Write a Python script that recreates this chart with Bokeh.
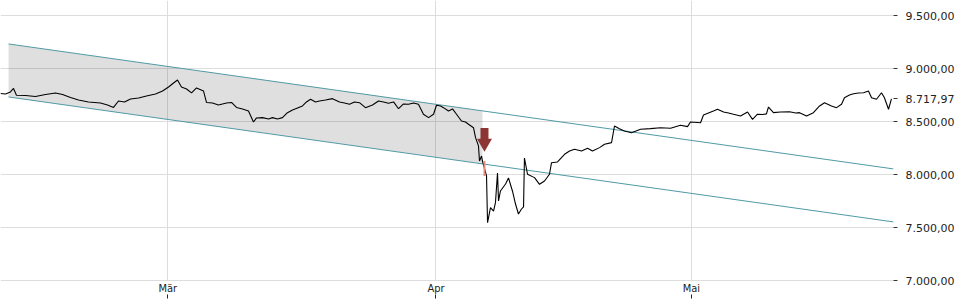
from bokeh.plotting import figure
from bokeh.models import Range1d, FixedTicker, CustomJSTickFormatter
from bokeh.embed import file_html
from bokeh.resources import INLINE

# Trading-day positions (0 = first session shown) and index level
days = [-0.10, 0.29, 0.68, 0.92, 1.15, 1.86, 2.64, 3.42, 4.21, 4.76, 5.38, 6.01, 6.79, 7.73, 8.28, 8.75,
        9.14, 9.61, 10.08, 10.71, 11.33, 12.04, 12.59, 13.06, 13.45, 13.76, 14.07, 14.47, 14.86, 15.25,
        15.80, 16.03, 16.50, 16.97, 17.60, 17.99, 18.38, 18.85, 19.32, 19.71, 19.95, 20.42, 20.89, 21.20,
        21.59, 21.98, 22.37, 22.77, 23.16, 23.55, 23.86, 24.18, 24.57, 24.88, 25.35, 25.90, 26.45, 26.84,
        27.23, 27.62, 28.01, 28.48, 29.03, 29.50, 29.89, 30.28, 30.68, 31.07, 31.46, 31.85, 32.24, 32.63,
        33.02, 33.42, 33.81, 34.04, 34.36, 34.59, 34.98, 35.30, 35.61, 36.00, 36.31, 36.55, 36.94, 37.10,
        37.33, 37.41, 37.57, 37.64, 37.96, 38.04, 38.27, 38.51, 38.66, 38.82, 38.90, 39.05, 39.45, 39.68,
        39.99, 40.23, 40.46, 40.70, 40.86, 40.93, 41.17, 41.72, 42.11, 42.50, 42.89, 43.05, 43.52, 44.07,
        44.46, 44.85, 45.40, 45.87, 46.26, 46.81, 47.20, 47.75, 47.98, 48.37, 48.76, 49.31, 50.02, 50.80,
        51.58, 52.37, 53.15, 53.70, 53.93, 54.72, 54.95, 55.34, 55.73, 56.05, 56.52, 56.91, 57.30, 57.85,
        58.40, 58.79, 59.18, 59.57, 59.88, 60.04, 60.43, 60.98, 61.69, 62.16, 62.47, 63.02, 63.56, 64.04,
        64.43, 64.97, 65.37, 65.76, 65.99, 66.38, 66.70, 67.09, 67.48, 67.87, 68.11, 68.50, 68.89, 69.12,
        69.44, 69.67]
price = [8769, 8764, 8783, 8816, 8752, 8750, 8741, 8759, 8774, 8759, 8731, 8708, 8689, 8679, 8660, 8637,
         8698, 8689, 8717, 8726, 8745, 8764, 8792, 8830, 8868, 8896, 8830, 8811, 8774, 8821,
         8792, 8684, 8679, 8660, 8679, 8684, 8637, 8623, 8604, 8500, 8538, 8541, 8528, 8541,
         8528, 8541, 8588, 8613, 8632, 8651, 8689, 8714, 8689, 8698, 8708, 8720, 8689, 8679,
         8667, 8689, 8682, 8635, 8660, 8698, 8689, 8676, 8689, 8625, 8670, 8667, 8679, 8667,
         8573, 8541, 8573, 8658, 8651, 8635, 8604, 8623, 8573, 8509, 8500, 8478, 8446, 8352,
         8274, 8132, 8179, 8132, 7991, 7550, 7692, 7660, 7739, 8019, 7755, 7849, 7915, 7972,
         7849, 7726, 7632, 7679, 7700, 8160, 8007, 7975, 7912, 7943, 8007, 8116, 8123, 8195,
         8226, 8242, 8226, 8252, 8226, 8258, 8290, 8305, 8462, 8437, 8415, 8399, 8431, 8437,
         8446, 8441, 8469, 8456, 8500, 8493, 8566, 8585, 8604, 8620, 8594, 8585, 8573, 8557,
         8594, 8525, 8573, 8571, 8576, 8641, 8588, 8594, 8597, 8585, 8588, 8557, 8588, 8651,
         8682, 8651, 8635, 8667, 8729, 8755, 8767, 8774, 8776, 8792, 8729, 8714, 8776, 8729,
         8620, 8717.97]

# Downtrend channel (upper / lower boundary) and the shaded part before the breakout
channel_days = [0.53, 69.83]
channel_upper = [9236, 8057]
channel_lower = [8736, 7557]
shade_days = [0.53, 37.64]
shade_upper = [9236, 8605]
shade_lower = [8736, 8105]

# Breakout signal
signal_day = [37.80]
signal_arrow_top = [8442]
signal_arrow_head = [8300]
signal_bar_high = [8132]
signal_bar_low = [7991]

# Axis ticks
month_ticks = [13, 34, 54]
month_labels = {13: "Mär", 34: "Apr", 54: "Mai"}
grid_levels = [7000, 7500, 8000, 8500, 9000, 9500]
last_value = 8717.97

p = figure(width=960, height=300, x_range=Range1d(-0.1, 69.83), y_range=Range1d(6995, 9646),
           y_axis_location="right", toolbar_location=None, output_backend="svg",
           min_border_left=0, min_border_top=0, min_border_right=67, min_border_bottom=19)
p.outline_line_color = None
p.background_fill_color = "white"

# grids
p.ygrid[0].ticker = FixedTicker(ticks=grid_levels)
p.grid.grid_line_color = "#dddddd"
p.grid.grid_line_width = 1

# shaded channel part
p.varea(x=shade_days, y1=shade_lower, y2=shade_upper, fill_color="#000000", fill_alpha=0.125)

# channel lines
p.line(channel_days, channel_upper, line_color="#4f9aa5", line_width=1)
p.line(channel_days, channel_lower, line_color="#4f9aa5", line_width=1)

# price
p.line(days, price, line_color="#000000", line_width=1.1)

# breakout bar and arrow
p.segment(x0=signal_day, y0=signal_bar_high, x1=signal_day, y1=signal_bar_low,
          line_color="#e58a84", line_width=2)
p.segment(x0=signal_day, y0=signal_arrow_top, x1=signal_day, y1=signal_arrow_head,
          line_color="#8c3532", line_width=8)
p.scatter(x=signal_day, y=signal_arrow_head, marker="inverted_triangle", size=15,
          fill_color="#8c3532", line_color="#8c3532", line_width=0)

# right axis
ya = p.yaxis[0]
ya.ticker = FixedTicker(ticks=grid_levels + [last_value])
ya.formatter = CustomJSTickFormatter(code="""
const parts = tick.toFixed(2).split('.');
const ip = parts[0].replace(/\\B(?=(\\d{3})+(?!\\d))/g, '.');
return ip + ',' + parts[1];
""")
ya.axis_line_color = None
ya.major_tick_in = 0
ya.major_tick_out = 4
ya.major_tick_line_color = "#333333"
ya.minor_tick_line_color = None
ya.major_label_standoff = 8
ya.major_label_text_font = "DejaVu Sans"
ya.major_label_text_font_size = "11px"
ya.major_label_text_color = "#222222"

# bottom axis
xa = p.xaxis[0]
xa.ticker = FixedTicker(ticks=month_ticks)
xa.major_label_overrides = month_labels
xa.axis_line_color = None
xa.major_tick_in = -13
xa.major_tick_out = 17
xa.major_tick_line_color = "#222222"
xa.major_tick_line_width = 1
xa.minor_tick_line_color = None
xa.major_label_standoff = -17
xa.major_label_text_font = "DejaVu Sans Condensed, DejaVu Sans"
xa.major_label_text_font_size = "11px"
xa.major_label_text_color = "#222222"

open("out.html", "w").write(file_html(p, INLINE))
